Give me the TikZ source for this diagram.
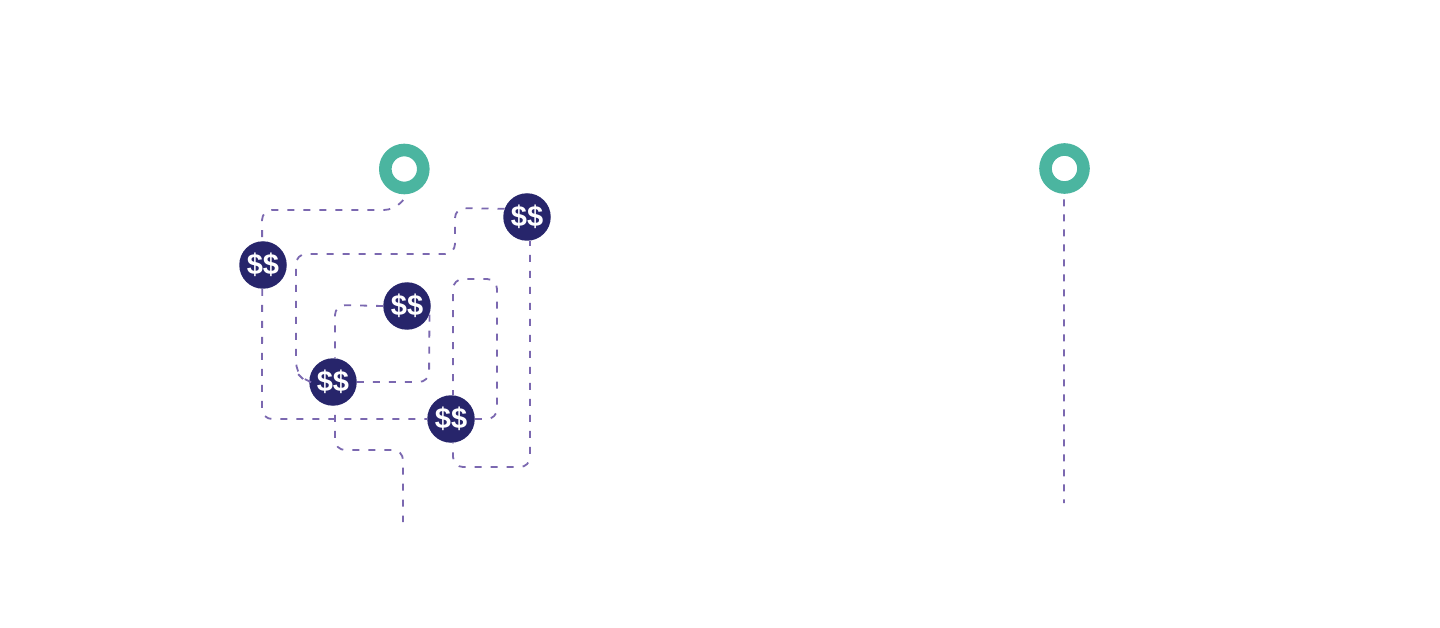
\documentclass[tikz,border=0pt]{standalone}
\usepackage{fontspec}
\setmainfont{Liberation Sans}
\definecolor{ringcol}{HTML}{4BB5A0}
\definecolor{coincol}{HTML}{27256B}
\definecolor{routecol}{HTML}{7B68B0}
\tikzset{
  coinnode/.style={circle,fill=coincol,text=white,inner sep=0pt,minimum size=47.5pt,font=\bfseries\fontsize{29}{29}\selectfont},
  ringnode/.style={circle,draw=ringcol,fill=white,line width=12.6pt,inner sep=0pt,minimum size=38pt,outer sep=12pt},
  route/.style={draw=routecol,line width=1.8pt,rounded corners=10pt,dash pattern=on 7pt off 9pt},
}
\begin{document}
\begin{tikzpicture}[x=1pt,y=-1pt,line join=bevel,]
  \useasboundingbox (0,0) rectangle (1440,628);
  % Node: rings
  \node[ringnode] (ringLeft) at (404.3,169) {};
  \node[ringnode] (ringRight) at (1064.5,168.5) {};
  % Node: coins
  \node[coinnode] (coinA) at (263,265) {\$\$};
  \node[coinnode] (coinB) at (407,306) {\$\$};
  \node[coinnode] (coinC) at (333,382) {\$\$};
  \node[coinnode] (coinD) at (451,419) {\$\$};
  \node[coinnode] (coinE) at (527,217) {\$\$};
  % Node: free ends
  \coordinate (endLeft) at (403,522);
  \coordinate (endRight) at (1064,503);
  % Edge: ringLeft -> coinA
  \draw[route] (ringLeft.-92) -- (394,210) -- (262,210) -- (coinA.92);
  % Edge: coinA -> coinD
  \draw[route] (coinA.-92) -- (262,419) -- (coinD.180);
  % Edge: coinD -> coinD
  \draw[route] (coinD.0) -- (497,419) -- (497,279) -- (453,279) -- (coinD.85);
  % Edge: coinD -> coinE
  \draw[route,dash phase=6.6pt] (coinD.-85) -- (453,467) -- (530,467) -- (coinE.-83);
  % Edge: coinE -> coinC
  \draw[route] (coinE.160) -- (455,208) -- (455,254) -- (296,254) -- (296,372) -- (305,381) -- (coinC.180);
  % Edge: coinC -> coinB
  \draw[route] (coinC.0) -- (429,382) -- (coinB.-20);
  % Edge: coinB -> coinC
  \draw[route] (coinB.180) -- (335,305) -- (coinC.85);
  % Edge: coinC -> endLeft
  \draw[route,dash phase=7pt] (coinC.-85) -- (335,450) -- (403,450) -- (endLeft);
  % Edge: ringRight -> endRight
  \draw[route,dash pattern=on 7pt off 8pt] (ringRight.-91) -- (endRight);
\end{tikzpicture}
\end{document}
